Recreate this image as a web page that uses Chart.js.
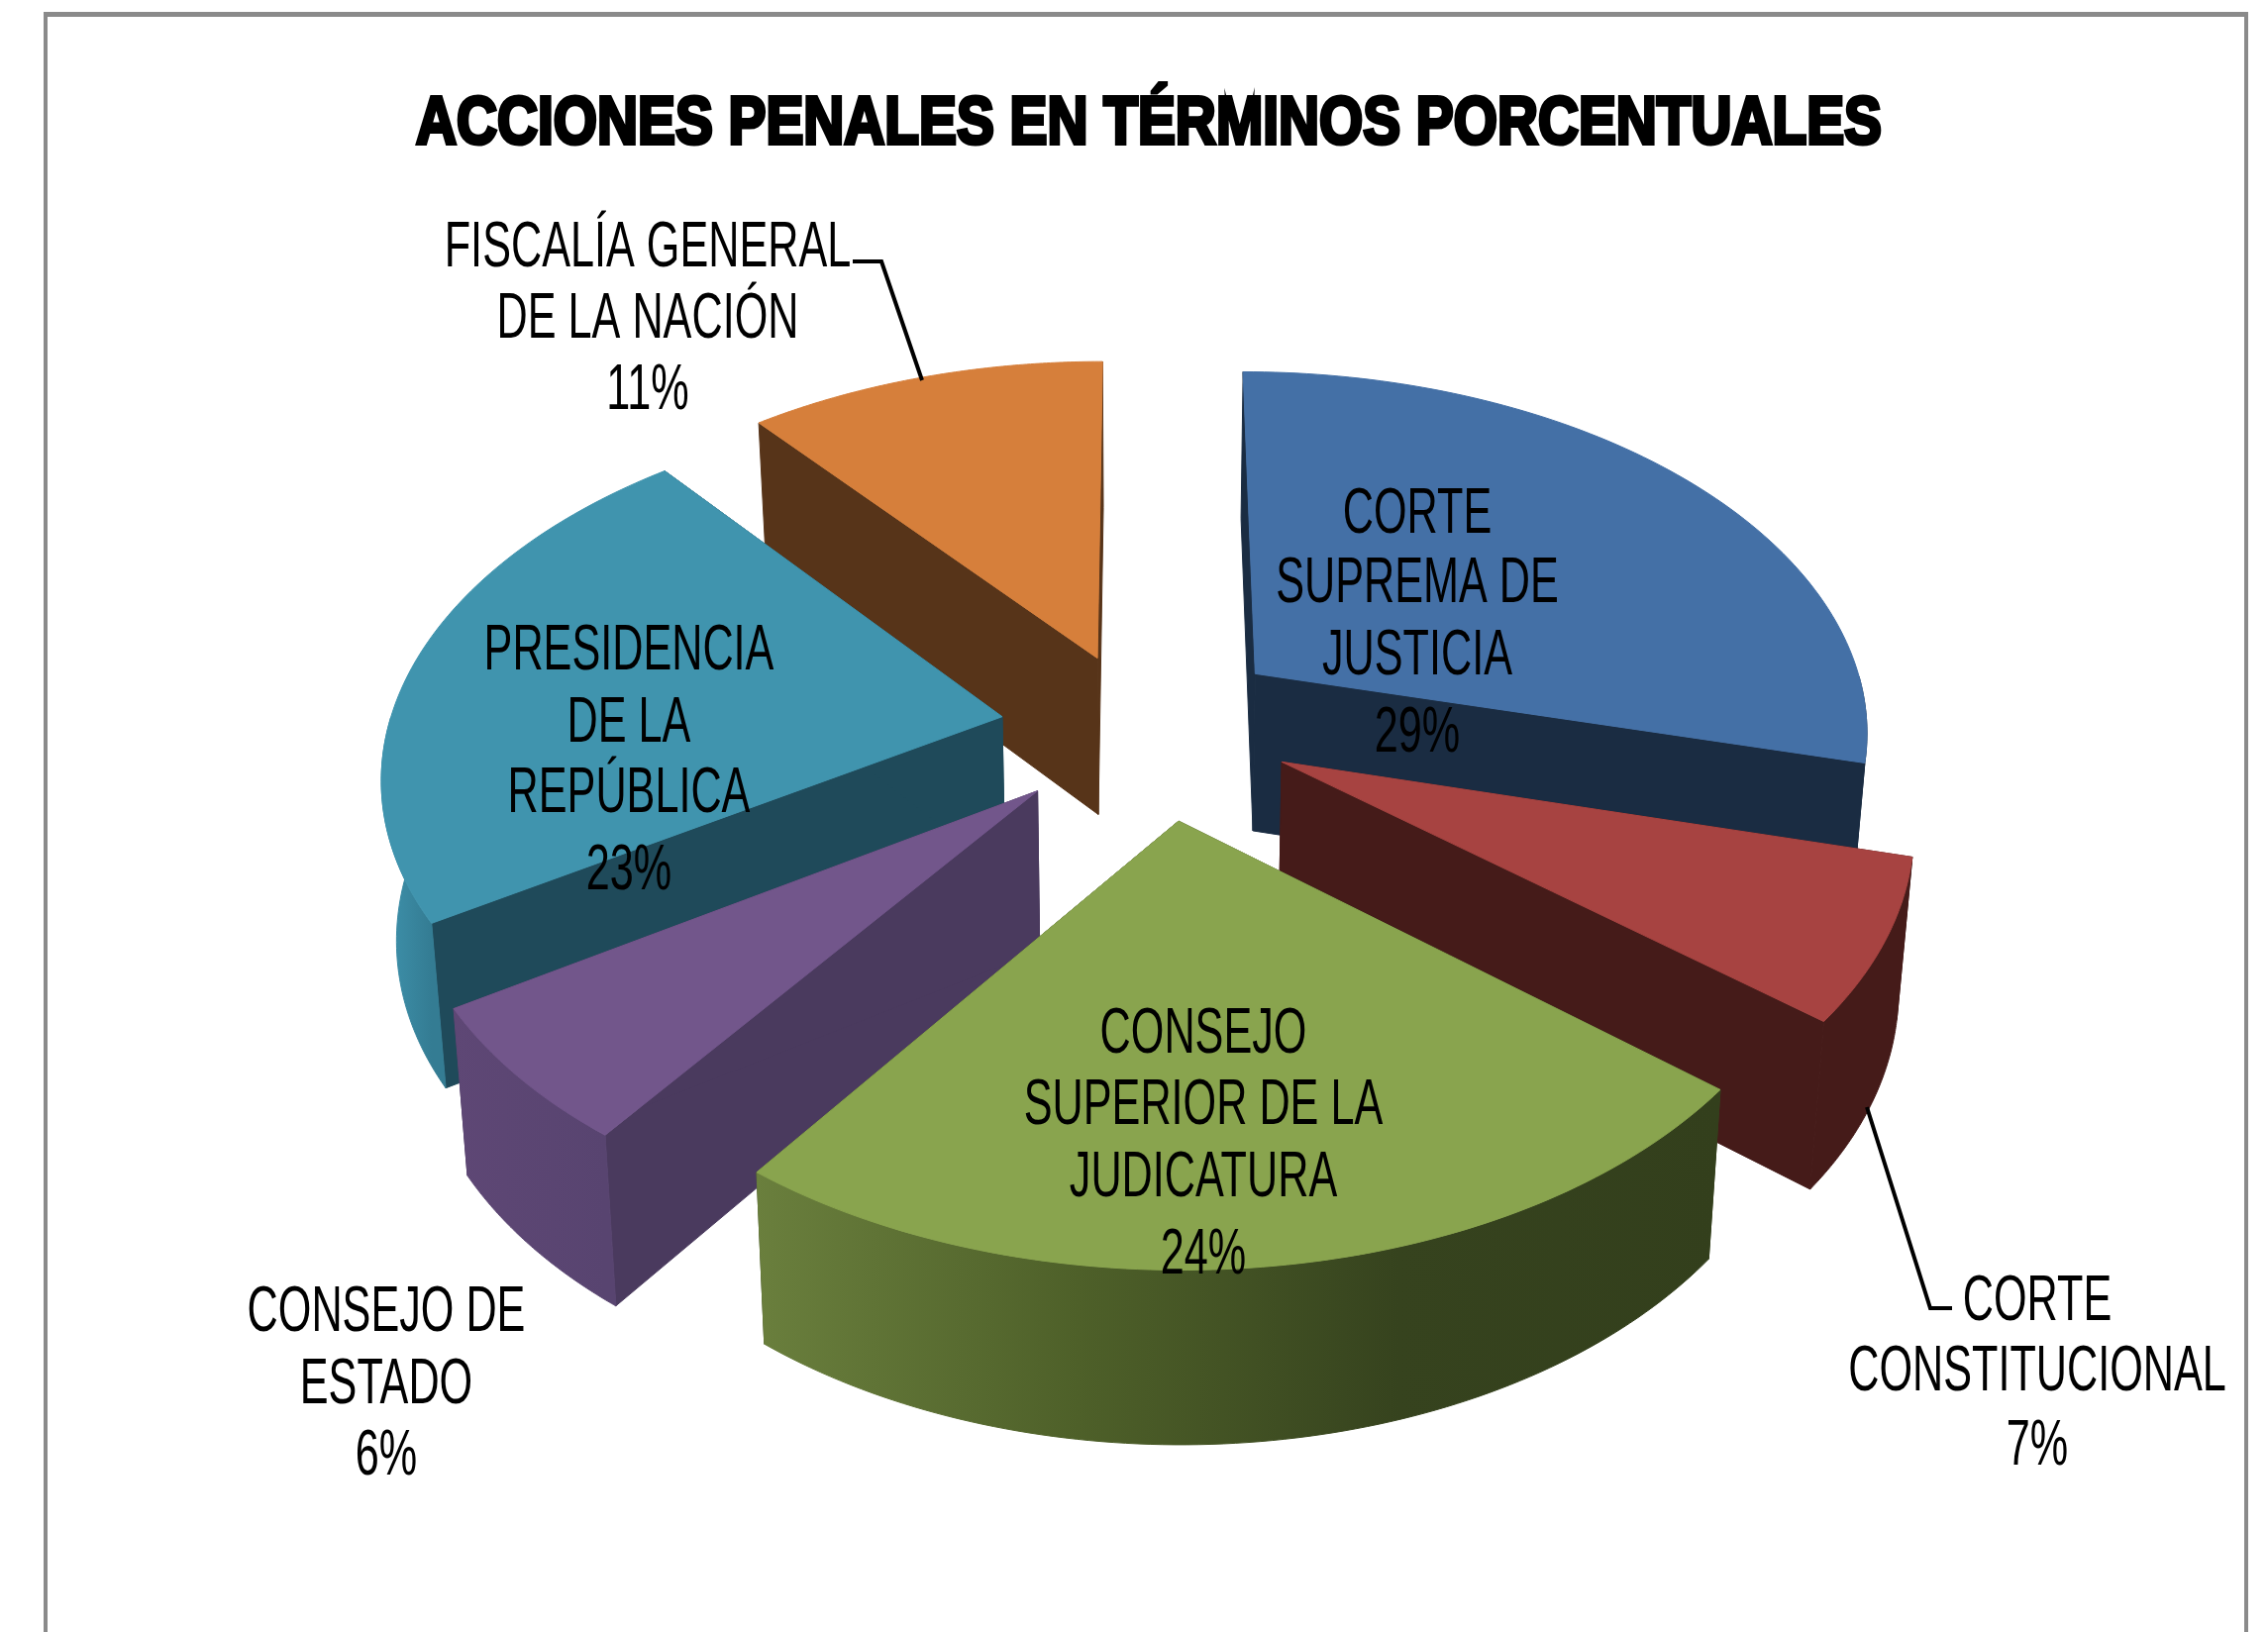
<!DOCTYPE html>
<html><head><meta charset="utf-8">
<style>html,body{margin:0;padding:0;background:#fff}canvas{display:block}</style>
<script src="https://cdn.jsdelivr.net/npm/chart.js@4/dist/chart.umd.min.js"></script>
</head><body><canvas id="c" width="2290" height="1648"></canvas>
<script>
const chartTitle = "ACCIONES PENALES EN TÉRMINOS PORCENTUALES";
const categories = ["CORTE SUPREMA DE JUSTICIA","CORTE CONSTITUCIONAL","CONSEJO SUPERIOR DE LA JUDICATURA","CONSEJO DE ESTADO","PRESIDENCIA DE LA REPÚBLICA","FISCALÍA GENERAL DE LA NACIÓN"];
const values = [29,7,24,6,23,11];
const labelLines = [["CORTE","SUPREMA DE","JUSTICIA"],["CORTE","CONSTITUCIONAL"],["CONSEJO","SUPERIOR DE LA","JUDICATURA"],["CONSEJO DE","ESTADO"],["PRESIDENCIA","DE LA","REPÚBLICA"],["FISCALÍA GENERAL","DE LA NACIÓN"]];

// styles
const topColors  = ["#4470a6","#a74341","#89a44e","#72568b","#4094ae","#d67f3b"];
const cutColors  = ["#1a2c42","#451b19","#36421d","#4a3a5e","#1f4a5a","#573419"];
const wallStops  = [["#1a2c42","#1a2c42"],["#451b19","#451b19"],["#6a7f3d","#4e6029","#36431e","#333f1c"],["#5e4775","#584470"],["#3f93ad","#347c93"],["#573419","#573419"]];
const explodePx = 150;
const view = {cx:1153, cy:743, a:620, b:362, p:0.148, h:160, lean:0.98};
const nudge = [[18,-19],[29,-7],[21,12],[-13,5],[-19,-8],[-4,-12]];
const labelBox = [
 {x:1431,y:[538,608,681,759]},{x:2057,y:[1333,1404,1479]},{x:1215,y:[1063,1135,1208,1286]},
 {x:390,y:[1344,1417,1489]},{x:635,y:[676,749,820,898]},{x:654,y:[269,341,413]}];
const leaders = [[[861,264],[890,264],[931,384]],[[1885,1118],[1949,1321],[1971,1321]]];

function proj(X,Y,n){const w=1-view.p*Y;return [view.cx+n[0]+view.a*X/w, view.cy+n[1]+view.b*Y/w, w];}
function drop(pt){return [view.cx+(pt[0]-view.cx)*view.lean, pt[1]+view.h/Math.sqrt(pt[2])];}
function poly(ctx,pts,fill){ctx.beginPath();pts.forEach((q,i)=>i?ctx.lineTo(q[0],q[1]):ctx.moveTo(q[0],q[1]));ctx.closePath();ctx.fillStyle=fill;ctx.fill();ctx.strokeStyle=fill;ctx.lineWidth=1;ctx.stroke();}
function squeezed(ctx,text,x,y,sx){ctx.save();ctx.translate(x,y);ctx.scale(sx,1);ctx.fillText(text,0,0);ctx.restore();}

const pie3d = {
 id:'pie3d',
 beforeDatasetsDraw(chart){
  const ctx=chart.ctx, arcs=chart.getDatasetMeta(0).data;
  const slices=arcs.map((arc,i)=>{
    const R=arc.outerRadius, d=arc.options.offset/R, mid=(arc.startAngle+arc.endAngle)/2;
    const ox=d*Math.cos(mid), oy=d*Math.sin(mid), rim=[], front=[];
    for(let k=0;k<=90;k++){
      const t=arc.startAngle+(arc.endAngle-arc.startAngle)*k/90, q=proj(ox+Math.cos(t),oy+Math.sin(t),nudge[i]);
      rim.push(q); if(Math.sin(t)>=-0.01) front.push(q);
    }
    return {i,rim,front,apex:proj(ox,oy,nudge[i]),depth:Math.sin(mid)};
  }).sort((p,q)=>p.depth-q.depth);
  ctx.save();
  slices.forEach(({i,rim,front,apex})=>{
    const a2=drop(apex), first=rim[0], last=rim[rim.length-1];
    poly(ctx,[apex,first,drop(first),a2],cutColors[i]);
    poly(ctx,[apex,last,drop(last),a2],cutColors[i]);
    if(front.length>1){
      const xs=front.map(q=>q[0]);
      const g=ctx.createLinearGradient(Math.min(...xs),0,Math.max(...xs),0);
      wallStops[i].forEach((c,n,all)=>g.addColorStop(n/(all.length-1),c));
      poly(ctx,front.concat(front.map(drop).reverse()),g);
    }
    poly(ctx,[apex].concat(rim),topColors[i]);
  });
  ctx.restore();
  return false;
 },
 afterDraw(chart){
  const ctx=chart.ctx;
  ctx.save();
  ctx.fillStyle="#8a8a8a";
  ctx.fillRect(44,12,2226,5);ctx.fillRect(44,12,4,1636);ctx.fillRect(2266,12,4,1636);
  ctx.strokeStyle="#000";ctx.lineWidth=4;ctx.lineJoin="miter";
  leaders.forEach(l=>{ctx.beginPath();l.forEach((q,n)=>n?ctx.lineTo(q[0],q[1]):ctx.moveTo(q[0],q[1]));ctx.stroke();});
  ctx.fillStyle="#000";ctx.textAlign="center";ctx.textBaseline="alphabetic";
  ctx.font='bold 68px "Liberation Sans"';
  const sx=1480/ctx.measureText(chartTitle).width;
  ctx.save();ctx.translate(1160,145);ctx.scale(sx,1);ctx.strokeStyle="#000";ctx.lineWidth=4;ctx.strokeText(chartTitle,0,0);ctx.fillText(chartTitle,0,0);ctx.restore();
  ctx.font='64px "Liberation Sans"';
  labelLines.forEach((lines,i)=>{
    const box=labelBox[i];
    lines.forEach((t,n)=>squeezed(ctx,t,box.x,box.y[n],0.675));
    squeezed(ctx,values[i]+"%",box.x,box.y[lines.length],0.675);
  });
  ctx.restore();
 }
};
new Chart(document.getElementById('c'),{
 type:'pie',
 data:{labels:categories,datasets:[{data:values,backgroundColor:topColors,offset:explodePx,borderWidth:0}]},
 options:{responsive:false,animation:false,plugins:{legend:{display:false},tooltip:{enabled:false},title:{display:false}}},
 plugins:[pie3d]
});
</script></body></html>
